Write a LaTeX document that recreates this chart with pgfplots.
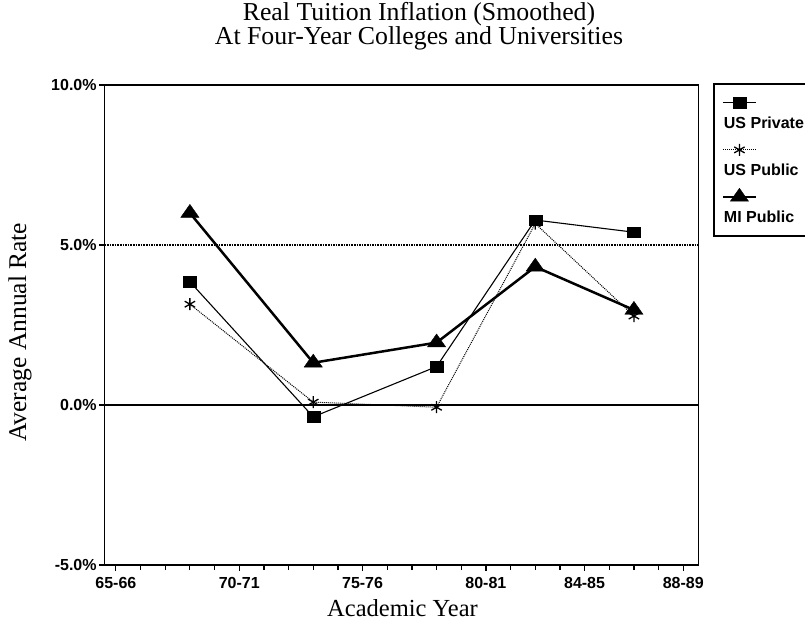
\documentclass[border=0pt]{standalone}
\usepackage{fontspec}
\setmainfont{Liberation Serif}
\newfontfamily\sansfont{Liberation Sans}
\usepackage{pgfplots}
\pgfplotsset{compat=1.18}
\begin{document}
\begin{tikzpicture}
\useasboundingbox (0,0) rectangle (805pt,622pt);
\begin{axis}[
  at={(104.3pt,57pt)}, anchor=south west,
  scale only axis, width=594pt, height=480pt,
  xmin=64.53, xmax=88.61, ymin=-5, ymax=10,
  axis line style={line width=1.6pt},
  xtick={65,70,75,80,84,88},
  xticklabels={65-66,70-71,75-76,80-81,84-85,88-89},
  minor xtick={65,...,88},
  ytick={-5,0,5,10},
  yticklabels={-5.0\%,0.0\%,5.0\%,10.0\%},
  tick align=outside, xtick pos=bottom, ytick pos=left,
  major tick length=5.5pt, minor tick length=5pt,
  tick style={black, line width=1.2pt},
  minor tick style={black, line width=1.2pt},
  /pgf/number format/assume math mode=true,
  ticklabel style={font=\fontsize{16}{16}\sansfont\bfseries},
  yticklabel style={inner xsep=2pt},
  xticklabel style={inner ysep=6.5pt},
  title={Real Tuition Inflation (Smoothed)\\At Four-Year Colleges and Universities},
  title style={at={(axis description cs:0.5298,1.1107)}, anchor=center, align=center, font=\fontsize{25.8}{24}\selectfont},
  xlabel={Academic Year},
  xlabel style={at={(axis description cs:0.502,-0.10625)}, anchor=base, font=\fontsize{24.5}{26}\selectfont},
  ylabel={Average Annual Rate},
  ylabel style={at={(axis description cs:-0.1318,0.485)}, anchor=base, font=\fontsize{25.5}{26}\selectfont},
  legend image code/.code={\draw[overlay, mark repeat=2, mark phase=2, #1] plot coordinates {(-1pt,26pt) (15.5pt,26pt) (32pt,26pt)};},
  legend style={at={(axis description cs:1.0248,1.0042)}, anchor=north west, draw=black, line width=1.8pt,
    inner xsep=10pt, inner ysep=9pt, column sep=0pt, row sep=7pt,
    cells={anchor=base west},
    nodes={inner sep=0pt, text height=36pt, text depth=4pt, font=\fontsize{16}{16}\sansfont\bfseries}},
]
\addplot[forget plot, black, line width=1.6pt, densely dotted] coordinates {(64.53,5) (88.61,5)};
\addplot[forget plot, black, line width=1.8pt] coordinates {(64.53,0) (88.61,0)};

\addplot[black, line width=1.1pt, mark=square*, mark size=6.5pt, mark options={solid, line width=0.4pt, yscale=0.8}]
  coordinates {(68,3.85) (73,-0.37) (78,1.20) (82,5.78) (86,5.40)};
\addlegendentry{US Private}
\addplot[black, line width=1pt, densely dotted, mark=asterisk, mark size=6pt, mark options={solid, line width=1.3pt}]
  coordinates {(68,3.15) (73,0.09) (78,-0.07) (82,5.67) (86,2.78)};
\addlegendentry{US Public}
\addplot[black, line width=2.5pt, mark=triangle*, mark size=10.5pt, mark options={solid, line width=0.4pt, yscale=0.82}]
  coordinates {(68,6.00) (73,1.32) (78,1.95) (82,4.32) (86,2.97)};
\addlegendentry{MI Public}
\end{axis}
\end{tikzpicture}
\end{document}
